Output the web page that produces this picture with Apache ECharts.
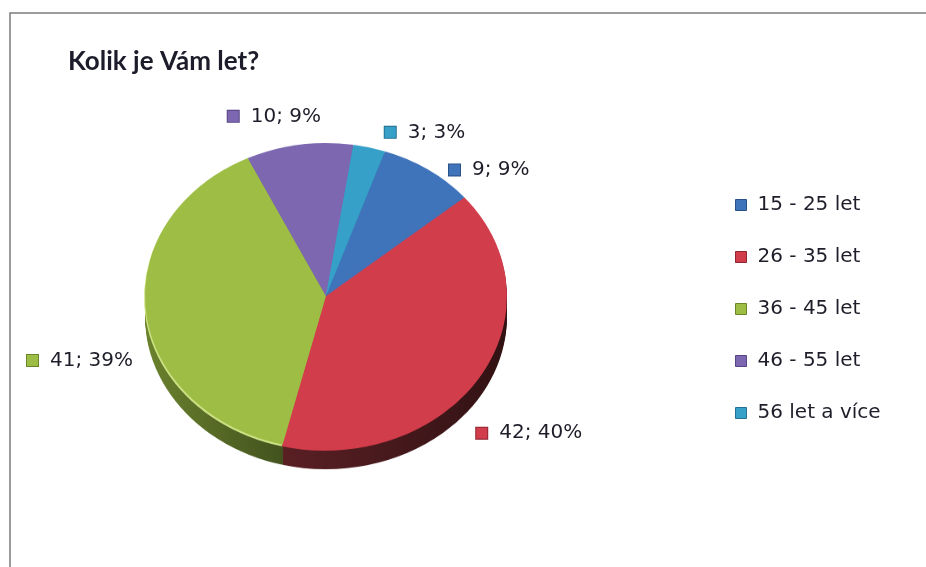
<!DOCTYPE html>
<html>
<head>
<meta charset="utf-8">
<script src="https://cdn.jsdelivr.net/npm/echarts@6/dist/echarts.min.js"></script>
<style>
  html, body { margin: 0; padding: 0; background: #ffffff; }
  #wrap { position: relative; width: 926px; height: 567px; overflow: hidden; }
  /* the disc is drawn round and squashed vertically to look tilted */
  #disc { position: absolute; left: 0; top: 0; width: 926px; height: 567px;
          transform: scaleY(0.845); transform-origin: 0 296px; }
  #front { position: absolute; left: 0; top: 0; width: 926px; height: 567px; }
</style>
</head>
<body>
<div id="wrap"><div id="disc"></div><div id="front"></div></div>
<script>
// ---- data ----
const chartTitle = 'Kolik je Vám let?';
const ageGroups = ['15 - 25 let', '26 - 35 let', '36 - 45 let', '46 - 55 let', '56 let a více'];
const respondents = [9, 42, 41, 10, 3];
const sharePercent = [9, 40, 39, 9, 3];

// ---- look ----
const topColors   = ['#3f73ba', '#d23d4b', '#9dbd45', '#7c67b0', '#37a0c9'];
const glintColors = ['#3f73ba', '#d23d4b', '#cfe486', '#7c67b0', '#37a0c9'];
const sideColors  = [
  '#1f3a60',
  { type: 'linear', x: 0, y: 0, x2: 1, y2: 0, colorStops: [{ offset: 0, color: '#5a2024' }, { offset: 1, color: '#321214' }] },
  { type: 'linear', x: 0, y: 0, x2: 1, y2: 0, colorStops: [{ offset: 0, color: '#6b822d' }, { offset: 1, color: '#36441a' }] },
  '#3c2f5a',
  '#1b4e63'
];
const edgeColors = ['#2a5088', '#8e2530', '#6a862a', '#574585', '#237090'];
const FONT = 'DejaVu Sans';
const CX = 326, CY = 296, R = 181, TILT = 0.845, DEPTH = 24, START = 71;
// label offsets (dx, dy) applied after the library places the outside labels
const labelNudge = [[1, 7], [-26, 52], [13, 48], [39, -20], [-1, -7]];

const pieItems = (colors) => ageGroups.map((name, i) => ({
  name: name, value: respondents[i], itemStyle: { color: colors[i] }
}));
const discLayer = (dx, dy, colors) => ({
  type: 'pie', silent: true, animation: false,
  center: [CX + dx, CY + dy], radius: R, startAngle: START, clockwise: true,
  label: { show: false }, labelLine: { show: false },
  data: pieItems(colors)
});

// ---- tilted disc: stacked rim layers, a thin glint along the lower-left edge, top face ----
const discSeries = [];
for (let k = DEPTH; k >= 2; k -= 2) discSeries.push(discLayer(0, k, sideColors));
discSeries.push(discLayer(-1, 2, glintColors));
discSeries.push(discLayer(0, 0, topColors));

const disc = echarts.init(document.getElementById('disc'), null, { renderer: 'canvas' });
disc.setOption({ animation: false, series: discSeries });

// ---- title, legend, frame and data labels ----
const rich = { t: { fontFamily: FONT, fontSize: 20, color: '#1e1e2a', padding: [0, 0, 0, 12] } };
topColors.forEach((c, i) => {
  rich['s' + i] = { width: 11, height: 11, backgroundColor: c, borderColor: edgeColors[i], borderWidth: 1 };
});

const front = echarts.init(document.getElementById('front'), null, { renderer: 'canvas' });
front.setOption({
  animation: false,
  graphic: [{
    type: 'rect', silent: true,
    shape: { x: 10, y: 13, width: 940, height: 600 },
    style: { fill: 'none', stroke: '#7c7c7c', lineWidth: 1.5 }
  }],
  title: {
    text: chartTitle, left: 63, top: 44,
    textStyle: { fontFamily: 'Lato', fontWeight: 'bold', fontSize: 26, color: '#1c1c2a' }
  },
  legend: {
    orient: 'vertical', left: 730, top: 189,
    itemWidth: 11, itemHeight: 11, itemGap: 30,
    icon: 'rect',
    data: ageGroups.map((name, i) => ({
      name: name, itemStyle: { color: topColors[i], borderColor: edgeColors[i], borderWidth: 1 }
    })),
    textStyle: { fontFamily: FONT, fontSize: 20, color: '#1e1e2a', lineHeight: 22, padding: [0, 0, 0, 6] }
  },
  series: [{
    type: 'pie', animation: false, silent: true,
    center: [CX, CY], radius: R, startAngle: START, clockwise: true,
    avoidLabelOverlap: false,
    itemStyle: { color: 'rgba(0,0,0,0)' },
    data: ageGroups.map((name, i) => ({ name: name, value: respondents[i], itemStyle: { color: 'rgba(0,0,0,0)' } })),
    label: {
      show: true, position: 'outside',
      formatter: (p) => '{s' + p.dataIndex + '|}{t|' + p.value + '; ' + sharePercent[p.dataIndex] + '%}',
      rich: rich
    },
    labelLine: { show: false, length: 10, length2: 10 },
    labelLayout: (p) => {
      const r = p.labelRect;
      const n = labelNudge[p.dataIndex];
      const midY = r.y + r.height / 2;
      return {
        x: r.x + n[0],
        y: CY + (midY - CY) * TILT + n[1],
        align: 'left', verticalAlign: 'middle'
      };
    }
  }]
});
</script>
</body>
</html>
